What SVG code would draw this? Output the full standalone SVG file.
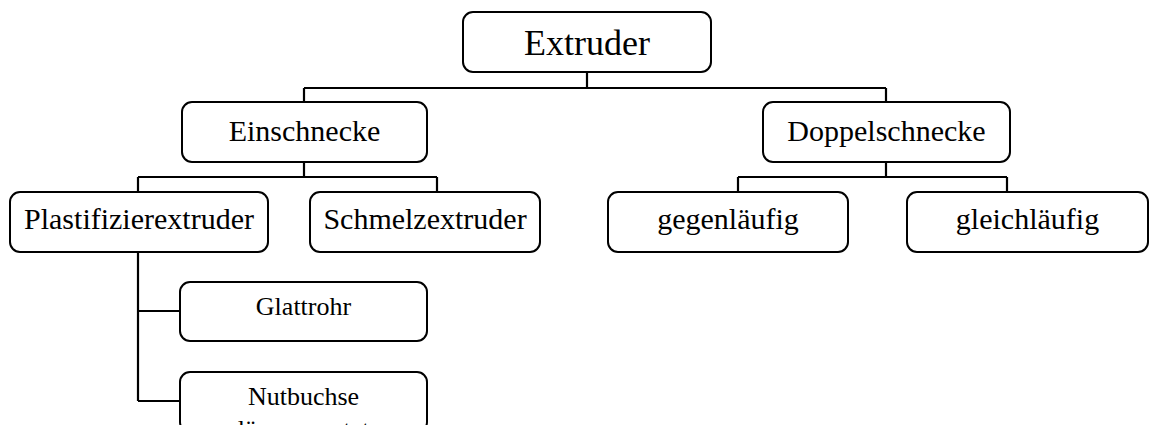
<svg xmlns="http://www.w3.org/2000/svg" width="1160" height="425" viewBox="0 0 1160 425">
<style>
.box{fill:#fff;stroke:#000;stroke-width:2}
.t{font-family:"Liberation Serif","Times New Roman",serif;fill:#000;text-anchor:middle}
.c{fill:none;stroke:#000;stroke-width:2.2}
</style>
<rect width="1160" height="425" fill="#fff"/>
<g id="connectors" class="c">
<path d="M587 72V88M304 88H886M304 88V102M886 88V102"/>
<path d="M304 162V177M138 177H437M138 177V192M437 177V192"/>
<path d="M886 162V177M738 177H1007M738 177V192M1007 177V192"/>
<path d="M138 252V401M138 311H180M138 401H180"/>
</g>
<g id="n-extruder"><rect class="box" x="463" y="12" width="248" height="60" rx="10"/><text class="t" x="587" y="55" font-size="36">Extruder</text></g>
<g id="n-einschnecke"><rect class="box" x="182" y="102" width="245" height="60" rx="10"/><text class="t" x="304.5" y="141" font-size="30">Einschnecke</text></g>
<g id="n-doppelschnecke"><rect class="box" x="763" y="102" width="247" height="60" rx="10"/><text class="t" x="886.5" y="141" font-size="30">Doppelschnecke</text></g>
<g id="n-plastifizier"><rect class="box" x="10" y="192" width="258" height="60" rx="10"/><text class="t" x="139" y="229" font-size="30">Plastifizierextruder</text></g>
<g id="n-schmelz"><rect class="box" x="310" y="192" width="230" height="60" rx="10"/><text class="t" x="425" y="229" font-size="30">Schmelzextruder</text></g>
<g id="n-gegen"><rect class="box" x="608" y="192" width="240" height="60" rx="10"/><text class="t" x="728" y="229" font-size="30">gegenläufig</text></g>
<g id="n-gleich"><rect class="box" x="907" y="192" width="241" height="60" rx="10"/><text class="t" x="1027.5" y="229" font-size="30">gleichläufig</text></g>
<g id="n-glattrohr"><rect class="box" x="180" y="282" width="247" height="59" rx="10"/><text class="t" x="303.5" y="315" font-size="26">Glattrohr</text></g>
<g id="n-nutbuchse"><rect class="box" x="180" y="372" width="247" height="60" rx="10"/><text class="t" x="303.5" y="405" font-size="26">Nutbuchse</text><text class="t" x="303.5" y="438" font-size="26">längsgenutet</text></g>
</svg>
